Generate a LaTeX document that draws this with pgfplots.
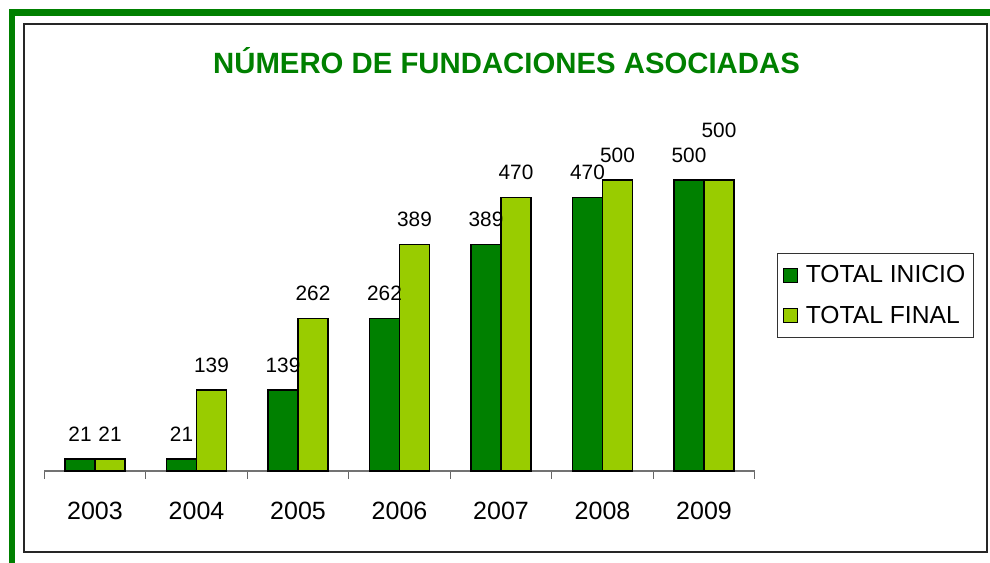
\documentclass[border=0pt]{standalone}
\usepackage{fontspec}
\setmainfont{Liberation Sans}
\usepackage{pgfplots}
\pgfplotsset{compat=1.18}
\definecolor{darkg}{RGB}{0,128,0}
\definecolor{lightg}{RGB}{153,204,0}

\begin{document}
\begin{tikzpicture}
  % page size 990x563 px, 1px = 0.75pt
  \useasboundingbox (0,0) rectangle (742.5pt,422.25pt);
  % green border top and left
  \fill[darkg] (6.75pt,410.25pt) rectangle (742.5pt,415.5pt);
  \fill[darkg] (6.75pt,0pt) rectangle (11.25pt,415.5pt);
  % black frame
  \draw[black!85, line width=1.5pt] (18pt,8.25pt) rectangle (740.25pt,404.25pt);
  % title
  \node[font=\fontsize{22}{26}\selectfont\bfseries, text=darkg]
    at (379.9pt,376.5pt) {NÚMERO DE FUNDACIONES ASOCIADAS};

  \begin{axis}[
      at={(33.19pt,69pt)}, anchor=south west,
      scale only axis,
      width=532.9pt, height=261.9pt,
      xmin=-0.5, xmax=6.5,
      ymin=0, ymax=600,
      ybar, bar width=22.5pt,
      axis y line=none,
      axis x line*=bottom,
      x axis line style={black!55, line width=0.8pt},
      xtick={0,...,6},
      xticklabels={2003,2004,2005,2006,2007,2008,2009},
      minor xtick={-0.5,0.5,...,6.5},
      major tick length=0pt,
      minor tick length=6pt,
      tick align=outside,
      minor tick style={black!60, line width=0.8pt},
      xticklabel style={font=\fontsize{18.75}{22}\selectfont, yshift=-20pt},
      clip=false,
      nodes near coords,
      /pgf/number format/assume math mode=true,
      every node near coord/.append style={
        font=\fontsize{15.6}{18}\selectfont, anchor=south, inner sep=0pt, yshift=12.75pt},
      legend style={at={(1.031,0.624)}, anchor=north west,
        draw=black!80, line width=0.6pt,
        font=\fontsize{18.5}{22}\selectfont,
        row sep=12pt, inner xsep=4pt, inner ysep=7pt},
      legend cell align=left,
      legend image code/.code={
        \draw[#1, line width=0.8pt] (1.5pt,-5.25pt) rectangle (12pt,5.25pt);
        \path (16pt,0pt);},
    ]
    \addplot[ybar, bar shift=-11.25pt,
      fill=darkg, draw=black, line width=1.1pt]
      coordinates {(0,21) (1,21) (2,139) (3,262) (4,389) (5,470) (6,500)};
    \addlegendentry{TOTAL INICIO}
    \addplot[ybar, bar shift=11.25pt,
      fill=lightg, draw=black, line width=1.1pt,
      coordinate style/.condition={\coordindex==6}{yshift=18.75pt}]
      coordinates {(0,21) (1,139) (2,262) (3,389) (4,470) (5,500) (6,500)};
    \addlegendentry{TOTAL FINAL}
  \end{axis}
\end{tikzpicture}
\end{document}
